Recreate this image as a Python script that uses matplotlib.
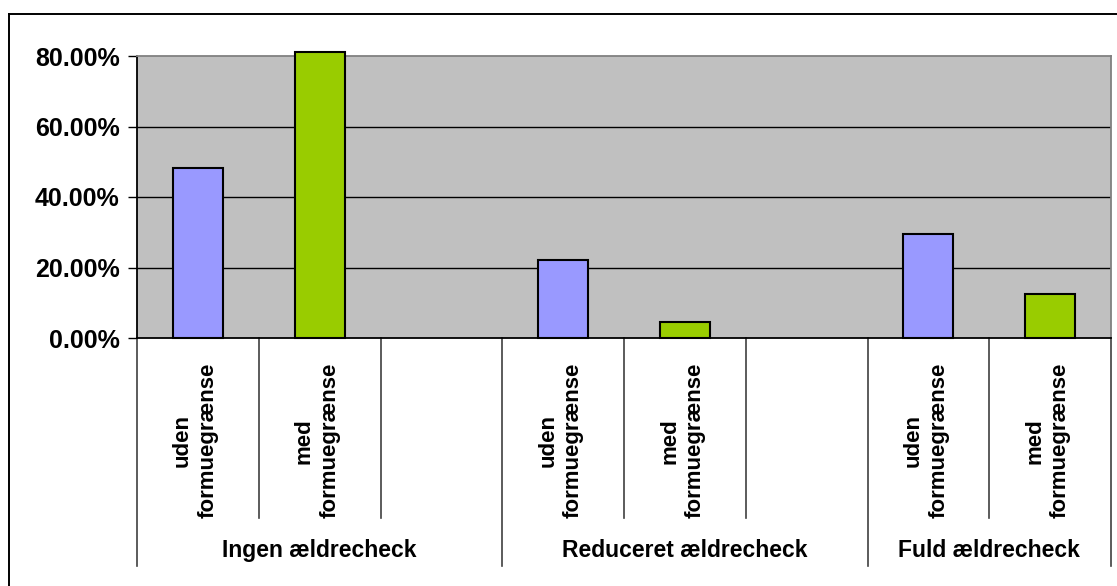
import matplotlib

matplotlib.use("Agg")
import matplotlib.pyplot as plt
from matplotlib.lines import Line2D
from matplotlib.ticker import FuncFormatter
from matplotlib.transforms import blended_transform_factory

plt.rcParams["font.family"] = ["Liberation Sans", "DejaVu Sans"]
plt.rcParams["font.weight"] = "bold"

# data
groups = ["Ingen ældrecheck", "Reduceret ældrecheck", "Fuld ældrecheck"]
group_slots = [3, 3, 2]
series_names = ["uden\nformuegrænse", "med\nformuegrænse"]
uden_values = [0.482, 0.221, 0.294]
med_values = [0.812, 0.045, 0.124]
y_ticks = [0.0, 0.2, 0.4, 0.6, 0.8]

BLUE = "#9999FF"
GREEN = "#99CC00"
PLOT_BG = "#C0C0C0"

fig = plt.figure(figsize=(11.17, 5.86), dpi=100)
ax = fig.add_axes([137 / 1117, (586 - 338) / 586, (1111 - 137) / 1117, (338 - 56) / 586])
ax.set_facecolor(PLOT_BG)

n_slots = sum(group_slots)
starts = [sum(group_slots[:i]) for i in range(len(groups))]
width = 0.41

ax.bar([s for s in starts], uden_values, width=width, color=BLUE,
       edgecolor="black", linewidth=1.5, zorder=3, clip_on=False)
ax.bar([s + 1 for s in starts], med_values, width=width, color=GREEN,
       edgecolor="black", linewidth=1.5, zorder=3, clip_on=False)

ax.set_xlim(-0.5, n_slots - 0.5)
ax.set_ylim(0, 0.8)
ax.set_yticks(y_ticks)
ax.yaxis.set_major_formatter(FuncFormatter(lambda v, _: f"{v * 100:.2f}%"))
ax.tick_params(axis="y", length=6.5, width=1, pad=6, labelsize=18)
for lab in ax.get_yticklabels():
    lab.set_fontweight("bold")
ax.set_xticks([])

for y in y_ticks[1:-1]:
    ax.axhline(y, color="black", linewidth=1, zorder=1)

ax.spines["left"].set_color("black")
ax.spines["bottom"].set_color("black")
ax.spines["bottom"].set_zorder(4)
ax.spines["top"].set_color("#808080")
ax.spines["right"].set_color("#808080")
for sp in ax.spines.values():
    sp.set_linewidth(1.3)

trans = blended_transform_factory(ax.transData, ax.transAxes)
group_edges = {starts[i] - 0.5 for i in range(len(groups))} | {n_slots - 0.5}
for i in range(n_slots + 1):
    xb = i - 0.5
    low = -0.809 if xb in group_edges else -0.638
    ax.add_line(Line2D([xb, xb], [0, low], transform=trans, color="#404040",
                       linewidth=1.2, clip_on=False))

# rotated category labels
for s in starts:
    for k, name in enumerate(series_names):
        ax.text(s + k - 0.02, -0.0887, name, transform=trans, rotation=90,
                ha="center", va="top", multialignment="center",
                fontsize=16, fontweight="bold", linespacing=1.3)

# group labels
for g, s, n in zip(groups, starts, group_slots):
    ax.text(s - 0.5 + n / 2, -0.752, g, transform=trans, ha="center",
            va="center", fontsize=16.5, fontweight="bold")

# outer chart border
fig.add_artist(Line2D([9 / 1117, 9 / 1117], [0, 1 - 14 / 586], transform=fig.transFigure,
                      color="black", linewidth=1.4))
fig.add_artist(Line2D([9 / 1117, 1], [1 - 14 / 586, 1 - 14 / 586], transform=fig.transFigure,
                      color="black", linewidth=1.4))

fig.savefig("out.png", dpi=100)
